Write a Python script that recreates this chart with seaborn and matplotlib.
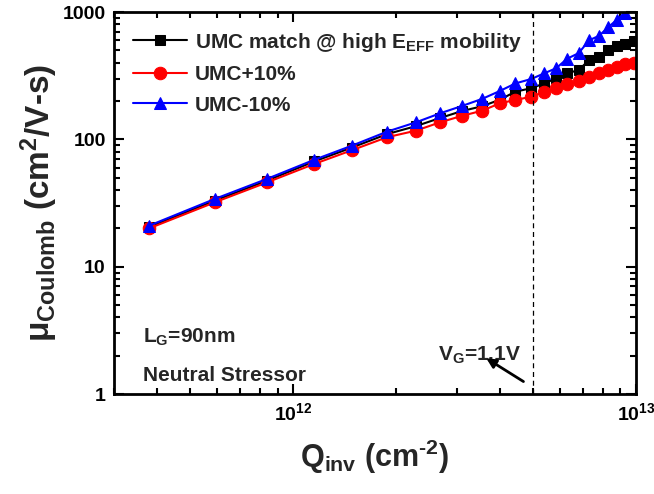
import numpy as np
import pandas as pd
import matplotlib
matplotlib.use('Agg')
import matplotlib.pyplot as plt
import seaborn as sns
from matplotlib.ticker import FixedLocator, FuncFormatter, LogLocator, NullFormatter

# Qinv sweep (cm^-2) and Coulomb mobility (cm^2/V-s)
qinv = np.array([0.38, 0.59, 0.84, 1.15, 1.48, 1.88, 2.28, 2.68, 3.11, 3.56, 4.01, 4.45,
                 4.95, 5.4, 5.85, 6.3, 6.8, 7.3, 7.8, 8.3, 8.8, 9.3, 9.85]) * 1e12
mu_match = [20.5, 33, 47.5, 67, 86, 110, 127, 147, 167, 182, 205, 237,
            252, 275, 301, 330, 350, 420, 446, 500, 540, 562, 592]
mu_plus10 = [20, 32, 46, 64, 82, 104, 117, 136, 153, 168, 192, 204,
             216, 237, 252, 272, 285, 310, 330, 350, 370, 388, 400]
mu_minus10 = [21, 34, 49, 69, 89, 115, 136, 160, 183, 208, 240, 275,
              298, 330, 362, 430, 475, 600, 650, 760, 870, 990, 1150]

series_names = ['UMC match @ high E$_{\\mathrm{EFF}}$ mobility', 'UMC+10%', 'UMC-10%']
series_colors = ['black', 'red', 'blue']
series_markers = ['s', 'o', '^']
vg_line = 5e12

sns.set_style('ticks')
plt.rcParams['font.family'] = ['Liberation Sans', 'DejaVu Sans']
plt.rcParams['font.weight'] = 'bold'
plt.rcParams['mathtext.fontset'] = 'custom'
plt.rcParams['mathtext.rm'] = 'Liberation Sans:bold'
plt.rcParams['mathtext.it'] = 'Liberation Sans:bold'
plt.rcParams['mathtext.bf'] = 'Liberation Sans:bold'
plt.rcParams['mathtext.sf'] = 'Liberation Sans:bold'

fig = plt.figure(figsize=(6.54, 4.94), dpi=100)
ax = fig.add_axes([0.1743, 0.2024, 0.7982, 0.7733])

msizes = [7.5, 9, 9]
for ys, name, c, m, ms in zip([mu_match, mu_plus10, mu_minus10], series_names,
                              series_colors, series_markers, msizes):
    df = pd.DataFrame({'q': qinv, 'mu': ys})
    sns.lineplot(data=df, x='q', y='mu', ax=ax, color=c, marker=m, markersize=ms,
                 markeredgecolor=c, linewidth=1.5, label=name)

ax.set_xscale('log')
ax.set_yscale('log')
ax.set_xlim(3e11, 1e13)
ax.set_ylim(1, 1000)

ax.axvline(vg_line, color='black', linestyle=(0, (4, 3)), linewidth=0.9)

ax.yaxis.set_major_locator(FixedLocator([1, 10, 100, 1000]))
ax.yaxis.set_major_formatter(FuncFormatter(lambda v, p: f'{v:g}'))
ax.yaxis.set_minor_locator(LogLocator(base=10, subs=np.arange(2, 10)))
ax.yaxis.set_minor_formatter(NullFormatter())
ax.xaxis.set_major_locator(FixedLocator([1e12, 1e13]))
ax.xaxis.set_major_formatter(FuncFormatter(lambda v, p: f'$10^{{{int(np.log10(v))}}}$'))
ax.xaxis.set_minor_locator(LogLocator(base=10, subs=np.arange(2, 10)))
ax.xaxis.set_minor_formatter(NullFormatter())

ax.tick_params(which='both', direction='in', top=True, right=True, width=1.5, colors='black')
ax.tick_params(which='major', length=7, labelsize=14, pad=6)
ax.tick_params(which='minor', length=4)
for s in ax.spines.values():
    s.set_linewidth(2)
    s.set_color('black')

ax.set_xlabel('Q$_{\\mathrm{inv}}$ (cm$^{\\text{-2}}$)', fontsize=22, fontweight='bold', labelpad=10)
ax.set_ylabel('\u03bc$_{\\mathrm{Coulomb}}$ (cm$^{2}$/V-s)', fontsize=24, fontweight='bold', labelpad=2)

leg = ax.legend(loc='upper left', frameon=False, handlelength=2.6,
                handletextpad=0.4, labelspacing=0.55, borderaxespad=0.5,
                prop={'weight': 'bold', 'size': 15})

ax.text(0.055, 0.135, 'L$_{\\mathrm{G}}$=90nm', transform=ax.transAxes, fontsize=15,
        fontweight='bold', va='baseline')
ax.text(0.055, 0.035, 'Neutral Stressor', transform=ax.transAxes, fontsize=15,
        fontweight='bold', va='baseline')
ax.text(3.5e12, 2.03, 'V$_{\\mathrm{G}}$=1.1V', fontsize=15, fontweight='bold',
        ha='center', va='center')
ax.annotate('', xy=(3.6e12, 1.96), xytext=(4.77e12, 1.22),
            arrowprops=dict(arrowstyle='-|>', color='black', lw=2, mutation_scale=14))

fig.savefig('out.png', dpi=100)
